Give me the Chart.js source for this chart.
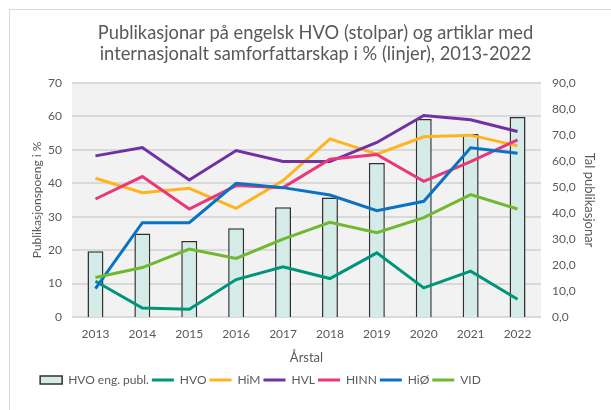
<!DOCTYPE html>
<html>
<head>
<meta charset="utf-8">
<script src="https://cdn.jsdelivr.net/npm/chart.js@4.4.1/dist/chart.umd.min.js"></script>
<style>
    body { margin: 0; background: #fff; }
    #wrap { position: relative; width: 611px; height: 410px; overflow: hidden; }
    #frame { position: absolute; left: 9px; top: 9px; width: 700px; height: 500px; border: 1px solid #d9d9d9; box-sizing: border-box; }
    canvas { position: absolute; left: 0; top: 0; }
</style>
</head>
<body>
<div id="wrap">
    <div id="frame"></div>
    <canvas id="chart" width="611" height="410"></canvas>
</div>
<script>
const years = ['2013', '2014', '2015', '2016', '2017', '2018', '2019', '2020', '2021', '2022'];
const hvoEngPubl = [25.3, 32.1, 29.2, 34.1, 42.2, 46.0, 59.2, 76.2, 70.4, 76.9];
const hvo = [10.7, 2.7, 2.3, 11.2, 15.0, 11.5, 19.2, 8.7, 13.7, 5.3];
const him = [41.5, 37.2, 38.5, 32.5, 40.8, 53.3, 48.7, 53.9, 54.4, 51.2];
const hvl = [48.2, 50.7, 41.0, 49.8, 46.5, 46.5, 52.2, 60.3, 59.0, 55.5];
const hinn = [35.3, 42.0, 32.3, 39.3, 38.7, 47.2, 48.6, 40.6, 46.5, 53.0];
const hio = [8.5, 28.2, 28.2, 40.0, 38.7, 36.5, 31.8, 34.6, 50.6, 49.0];
const vid = [11.8, 14.8, 20.3, 17.5, 23.3, 28.3, 25.2, 29.7, 36.6, 32.3];

const textColor = '#595959';
const font = 'Lato, "Open Sans", sans-serif';

function lineSet(label, data, color, order) {
    return {
        type: 'line',
        label: label,
        data: data,
        borderColor: color,
        backgroundColor: color,
        borderWidth: 3,
        pointRadius: 0,
        tension: 0,
        yAxisID: 'y',
        order: order
    };
}

// grey plot background
const plotBg = {
    id: 'plotBg',
    beforeDraw(chart) {
        const a = chart.chartArea;
        const ctx = chart.ctx;
        ctx.save();
        ctx.fillStyle = '#f2f2f2';
        ctx.fillRect(a.left, a.top, a.right - a.left, a.bottom - a.top);
        ctx.restore();
    }
};

// move legend a bit left, like the original
const legendShift = {
    id: 'legendShift',
    afterLayout(chart) {
        chart.legend.left -= 55;
        chart.legend.right -= 55;
    }
};

new Chart(document.getElementById('chart'), {
    data: {
        labels: years,
        datasets: [
            {
                type: 'bar',
                label: 'HVO eng. publ.',
                data: hvoEngPubl,
                backgroundColor: '#d5ebe8',
                borderColor: '#303030',
                borderWidth: 1.5,
                categoryPercentage: 1,
                barPercentage: 0.34,
                yAxisID: 'y1',
                order: 7
            },
            lineSet('HVO', hvo, '#00957a', 6),
            lineSet('HiM', him, '#ffb41f', 5),
            lineSet('HVL', hvl, '#7231a2', 4),
            lineSet('HINN', hinn, '#e8377a', 3),
            lineSet('HiØ', hio, '#0a72c4', 2),
            lineSet('VID', vid, '#70b82f', 1)
        ]
    },
    options: {
        responsive: false,
        animation: false,
        layout: { padding: { left: 20, right: 0, top: 0, bottom: 14 } },
        plugins: {
            title: {
                display: true,
                text: ['Publikasjonar på engelsk HVO (stolpar) og artiklar med', 'internasjonalt samforfattarskap i % (linjer), 2013-2022'],
                color: textColor,
                font: { family: font, size: 18.3, weight: 'normal', lineHeight: 1.1475 },
                padding: { top: 23, bottom: 18 }
            },
            legend: {
                position: 'bottom',
                labels: {
                    color: textColor,
                    font: { family: font, size: 12 },
                    usePointStyle: true,
                    pointStyleWidth: 22,
                    boxHeight: 8,
                    padding: 3,
                    generateLabels(chart) {
                        return chart.data.datasets.map((ds, i) => ({
                            text: ds.label,
                            datasetIndex: i,
                            fillStyle: ds.backgroundColor,
                            strokeStyle: ds.borderColor,
                            lineWidth: ds.type === 'bar' ? 1.5 : 3,
                            pointStyle: ds.type === 'bar' ? 'rect' : 'line',
                            fontColor: textColor,
                            hidden: false
                        }));
                    }
                }
            },
            tooltip: { enabled: false }
        },
        scales: {
            x: {
                offset: true,
                grid: { display: false, drawTicks: false },
                border: { display: false },
                ticks: { color: textColor, font: { family: font, size: 12 }, padding: 10 },
                title: {
                    display: true,
                    text: 'Årstal',
                    color: textColor,
                    font: { family: font, size: 13 },
                    padding: { top: 5, bottom: 5 }
                },
                afterFit(scale) { scale.height = 54; }
            },
            y: {
                position: 'left',
                min: 0,
                max: 70,
                ticks: { stepSize: 10, color: textColor, font: { family: font, size: 12 }, padding: 10 },
                grid: { color: '#d9d9d9', lineWidth: 2, drawTicks: false },
                border: { display: false },
                title: {
                    display: true,
                    text: 'Publikasjonspoeng i %',
                    color: textColor,
                    font: { family: font, size: 12 },
                    padding: { top: 10, bottom: 4 }
                },
                afterFit(scale) { scale.width = 52; }
            },
            y1: {
                position: 'right',
                min: 0,
                max: 90,
                ticks: {
                    stepSize: 10,
                    color: textColor,
                    font: { family: font, size: 12 },
                    padding: 11,
                    callback: v => v.toFixed(1).replace('.', ',')
                },
                grid: { display: false, drawTicks: false },
                border: { display: false },
                title: {
                    display: true,
                    text: 'Tal publikasjonar',
                    color: textColor,
                    font: { family: font, size: 13 },
                    padding: { top: 14, bottom: 4 }
                },
                afterFit(scale) { scale.width = 70; }
            }
        }
    },
    plugins: [plotBg, legendShift]
});
</script>
</body>
</html>
